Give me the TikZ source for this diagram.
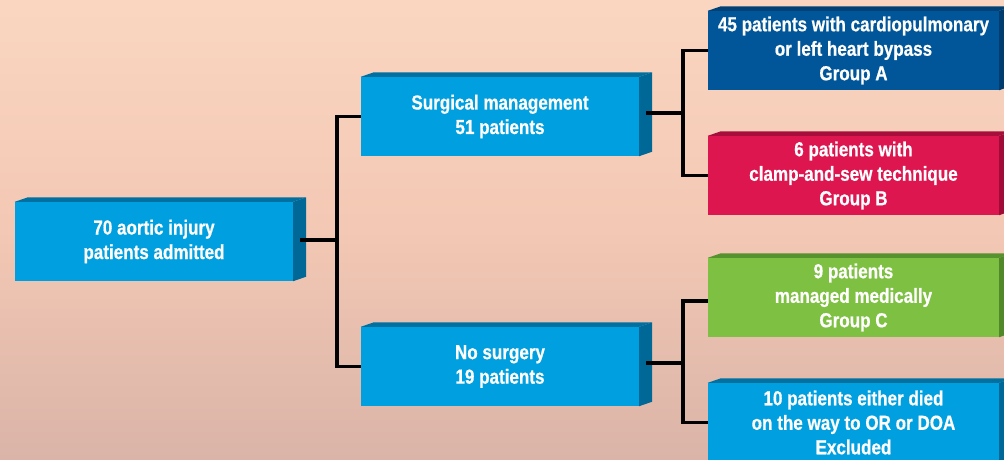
\documentclass[tikz,border=0pt]{standalone}
\usepackage{fontspec}
\setmainfont{Liberation Sans}[FakeStretch=0.84, BoldFeatures={FakeBold=0.6}]
\usetikzlibrary{calc}
\definecolor{bgtop}{RGB}{250,214,192}
\definecolor{bgmid}{RGB}{243,200,180}
\definecolor{bgbot}{RGB}{218,180,168}
\definecolor{lbfront}{RGB}{0,160,224}
\definecolor{lbside}{RGB}{0,104,150}
\definecolor{lbtop}{RGB}{0,112,160}
\definecolor{dbfront}{RGB}{0,86,152}
\definecolor{dbside}{RGB}{0,60,110}
\definecolor{dbtop}{RGB}{0,66,118}
\definecolor{rdfront}{RGB}{222,22,80}
\definecolor{rdside}{RGB}{160,12,56}
\definecolor{rdtop}{RGB}{168,14,60}
\definecolor{gnfront}{RGB}{126,192,66}
\definecolor{gnside}{RGB}{80,136,42}
\definecolor{gntop}{RGB}{86,146,46}
\tikzset{
  x=1pt,y=-1pt,
  cube/.style={rectangle, inner sep=0pt, minimum height=79pt, text=white,
    font=\bfseries\fontsize{20.3}{24.5}\selectfont, align=center},
  wire/.style={line width=3.5pt, black, line cap=butt},
}
% #1 name, #2 front, #3 side, #4 top
\newcommand{\cubefaces}[4]{%
  \fill[#4] (#1.north west) -- ($(#1.north west)+(13,-4.5)$) -- ($(#1.north east)+(13,-4.5)$) -- (#1.north east) -- cycle;
  \fill[#3] (#1.north east) -- ($(#1.north east)+(13,-4.5)$) -- ($(#1.south east)+(13,-4.5)$) -- (#1.south east) -- cycle;
}
\begin{document}
\begin{tikzpicture}
\useasboundingbox (0,0) rectangle (1004,460);
\clip (0,0) rectangle (1004,460);
\shade[top color=bgtop, bottom color=bgbot, middle color=bgmid] (0,0) rectangle (1004,460);

\node[cube, fill=lbfront, minimum width=278pt] (root) at (154,241.5) {70 aortic injury\\patients admitted};
\node[cube, fill=lbfront, minimum width=278pt] (surg) at (500,116.5) {Surgical management\\51 patients};
\node[cube, fill=lbfront, minimum width=278pt] (nosurg) at (500,366.5) {No surgery\\19 patients};
\node[cube, fill=dbfront, minimum width=291pt] (ga) at (853.5,50.5) {45 patients with cardiopulmonary\\or left heart bypass\\Group A};
\node[cube, fill=rdfront, minimum width=291pt] (gb) at (853.5,175.5) {6 patients with\\clamp-and-sew technique\\Group B};
\node[cube, fill=gnfront, minimum width=291pt] (gc) at (853.5,297.5) {9 patients\\managed medically\\Group C};
\node[cube, fill=lbfront, minimum width=291pt] (gd) at (853.5,422.5) {10 patients either died\\on the way to OR or DOA\\Excluded};

\cubefaces{root}{lbfront}{lbside}{lbtop}
\cubefaces{surg}{lbfront}{lbside}{lbtop}
\cubefaces{nosurg}{lbfront}{lbside}{lbtop}
\cubefaces{ga}{dbfront}{dbside}{dbtop}
\cubefaces{gb}{rdfront}{rdside}{rdtop}
\cubefaces{gc}{gnfront}{gnside}{gntop}
\cubefaces{gd}{lbfront}{lbside}{lbtop}

\coordinate (rootout) at ($(root.east)+(7,-1.5)$);
\coordinate (surgout) at ($(surg.east)+(7,-3.5)$);
\coordinate (nosurgout) at ($(nosurg.east)+(7,-3.5)$);
\coordinate (j1) at (337,240);
\coordinate (j2) at (683,113);
\coordinate (j3) at (683,363);

\draw[wire] (rootout) -- (j1);
\draw[wire] (j1) |- (surg.west);
\draw[wire] (j1) |- (nosurg.west);
\draw[wire] (surgout) -- (j2);
\draw[wire] (j2) |- (ga.west);
\draw[wire] (j2) |- (gb.west);
\draw[wire] (nosurgout) -- (j3);
\draw[wire] (j3) |- ($(gc.west)+(0,3.5)$);
\draw[wire] (j3) |- (gd.west);
\end{tikzpicture}
\end{document}
